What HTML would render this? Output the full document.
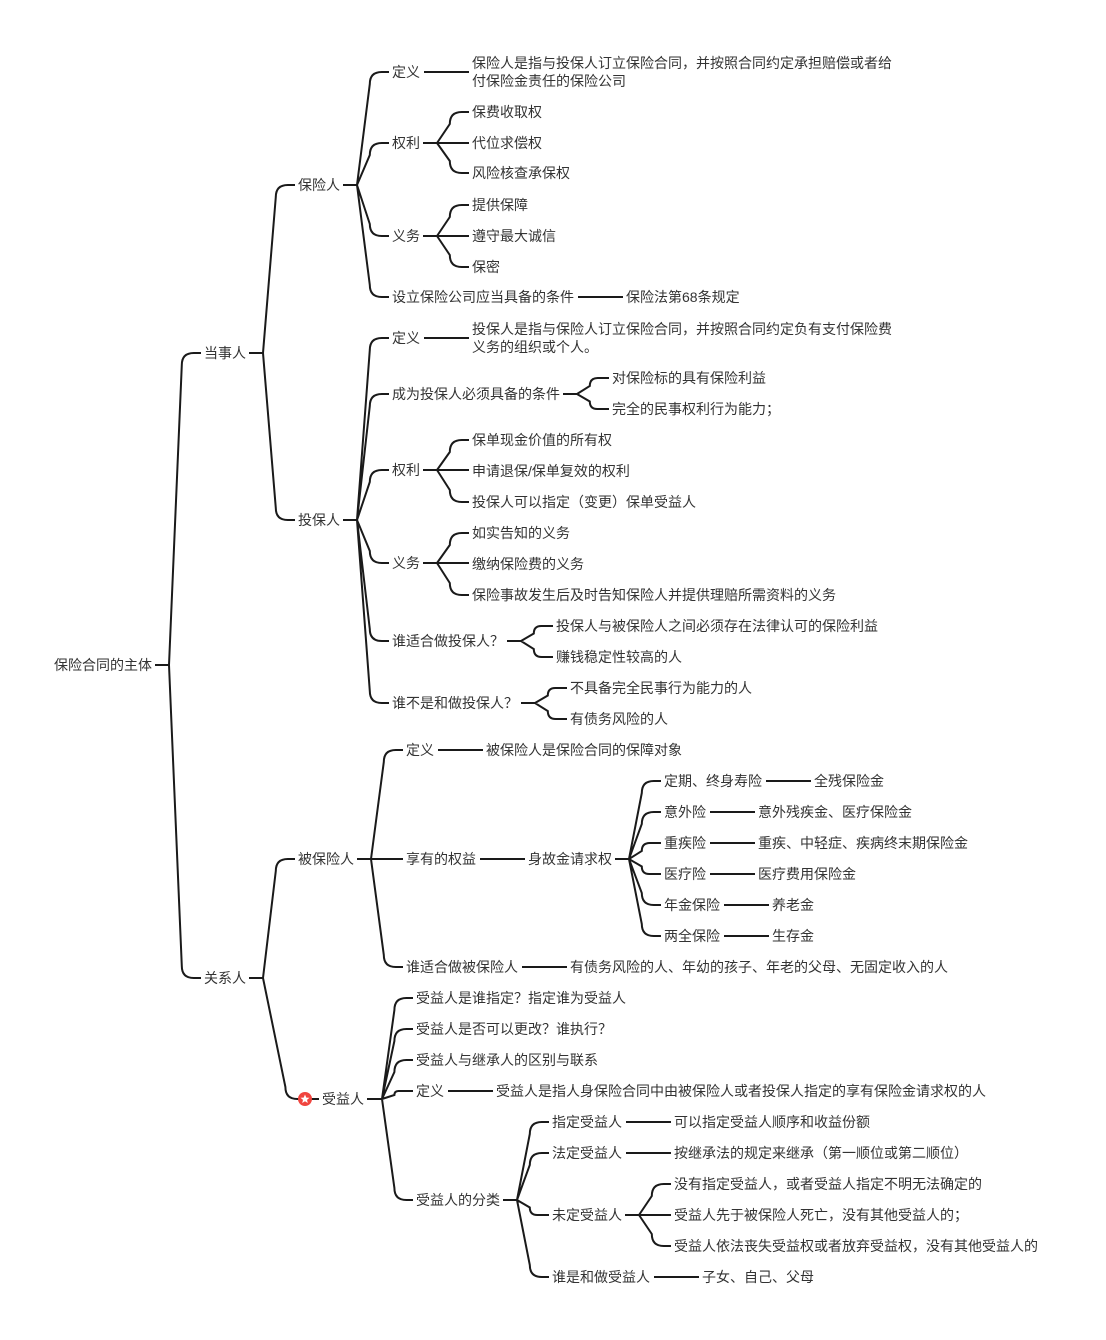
<!DOCTYPE html>
<html><head><meta charset="utf-8"><style>
html,body{margin:0;padding:0;background:#fff;}
svg{display:block;}
text{font-family:"Liberation Sans","Noto Sans CJK SC",sans-serif;font-size:14px;fill:#333;dominant-baseline:central;}
path{fill:none;stroke:#1a1a1a;stroke-width:2;}
</style></head><body>
<svg id="s" width="1106" height="1340" viewBox="0 0 1106 1340" xmlns="http://www.w3.org/2000/svg">
<g id="lines"></g>
<text id="root" x="54" y="665">保险合同的主体</text>
<text id="a" x="204" y="353">当事人</text>
<text id="b" x="204" y="978">关系人</text>
<text id="a1" x="298" y="185">保险人</text>
<text id="a2" x="298" y="520">投保人</text>
<text id="a1a" x="392" y="72">定义</text>
<text id="a1aL" x="472" y="63">保险人是指与投保人订立保险合同，并按照合同约定承担赔偿或者给</text>
<text x="472" y="81">付保险金责任的保险公司</text>
<text id="a1b" x="392" y="143">权利</text>
<text id="a1b1" x="472" y="112">保费收取权</text>
<text id="a1b2" x="472" y="143">代位求偿权</text>
<text id="a1b3" x="472" y="173">风险核查承保权</text>
<text id="a1c" x="392" y="236">义务</text>
<text id="a1c1" x="472" y="205">提供保障</text>
<text id="a1c2" x="472" y="236">遵守最大诚信</text>
<text id="a1c3" x="472" y="267">保密</text>
<text id="a1d" x="392" y="297">设立保险公司应当具备的条件</text>
<text id="a1d1" x="626" y="297">保险法第68条规定</text>
<text id="a2a" x="392" y="338">定义</text>
<text id="a2aL" x="472" y="329">投保人是指与保险人订立保险合同，并按照合同约定负有支付保险费</text>
<text x="472" y="347">义务的组织或个人。</text>
<text id="a2b" x="392" y="394">成为投保人必须具备的条件</text>
<text id="a2b1" x="612" y="378">对保险标的具有保险利益</text>
<text id="a2b2" x="612" y="409">完全的民事权利行为能力；</text>
<text id="a2c" x="392" y="470">权利</text>
<text id="a2c1" x="472" y="440">保单现金价值的所有权</text>
<text id="a2c2" x="472" y="471">申请退保/保单复效的权利</text>
<text id="a2c3" x="472" y="502">投保人可以指定（变更）保单受益人</text>
<text id="a2d" x="392" y="563">义务</text>
<text id="a2d1" x="472" y="533">如实告知的义务</text>
<text id="a2d2" x="472" y="564">缴纳保险费的义务</text>
<text id="a2d3" x="472" y="595">保险事故发生后及时告知保险人并提供理赔所需资料的义务</text>
<text id="a2e" x="392" y="641">谁适合做投保人？</text>
<text id="a2e1" x="556" y="626">投保人与被保险人之间必须存在法律认可的保险利益</text>
<text id="a2e2" x="556" y="657">赚钱稳定性较高的人</text>
<text id="a2f" x="392" y="703">谁不是和做投保人？</text>
<text id="a2f1" x="570" y="688">不具备完全民事行为能力的人</text>
<text id="a2f2" x="570" y="719">有债务风险的人</text>
<text id="b1" x="298" y="859">被保险人</text>
<text id="b1a" x="406" y="750">定义</text>
<text id="b1a1" x="486" y="750">被保险人是保险合同的保障对象</text>
<text id="b1b" x="406" y="859">享有的权益</text>
<text id="b1b1" x="528" y="859">身故金请求权</text>
<text id="k1" x="664" y="781">定期、终身寿险</text>
<text id="k1a" x="814" y="781">全残保险金</text>
<text id="k2" x="664" y="812">意外险</text>
<text id="k2a" x="758" y="812">意外残疾金、医疗保险金</text>
<text id="k3" x="664" y="843">重疾险</text>
<text id="k3a" x="758" y="843">重疾、中轻症、疾病终末期保险金</text>
<text id="k4" x="664" y="874">医疗险</text>
<text id="k4a" x="758" y="874">医疗费用保险金</text>
<text id="k5" x="664" y="905">年金保险</text>
<text id="k5a" x="772" y="905">养老金</text>
<text id="k6" x="664" y="936">两全保险</text>
<text id="k6a" x="772" y="936">生存金</text>
<text id="b1c" x="406" y="967">谁适合做被保险人</text>
<text id="b1c1" x="570" y="967">有债务风险的人、年幼的孩子、年老的父母、无固定收入的人</text>
<circle cx="305" cy="1099" r="7" fill="#f0453f"/>
<polygon points="305,1094.5 306.3,1097.6 309.5,1097.8 307,1099.9 307.8,1103 305,1101.3 302.2,1103 303,1099.9 300.5,1097.8 303.7,1097.6" fill="#fff"/>
<text id="b2" x="322" y="1099">受益人</text>
<text id="b2a" x="416" y="998">受益人是谁指定？指定谁为受益人</text>
<text id="b2b" x="416" y="1029">受益人是否可以更改？谁执行？</text>
<text id="b2c" x="416" y="1060">受益人与继承人的区别与联系</text>
<text id="b2d" x="416" y="1091">定义</text>
<text id="b2d1" x="496" y="1091">受益人是指人身保险合同中由被保险人或者投保人指定的享有保险金请求权的人</text>
<text id="b2e" x="416" y="1200">受益人的分类</text>
<text id="c1" x="552" y="1122">指定受益人</text>
<text id="c1a" x="674" y="1122">可以指定受益人顺序和收益份额</text>
<text id="c2" x="552" y="1153">法定受益人</text>
<text id="c2a" x="674" y="1153">按继承法的规定来继承（第一顺位或第二顺位）</text>
<text id="c3" x="552" y="1215">未定受益人</text>
<text id="c3a" x="674" y="1184">没有指定受益人，或者受益人指定不明无法确定的</text>
<text id="c3b" x="674" y="1215">受益人先于被保险人死亡，没有其他受益人的；</text>
<text id="c3c" x="674" y="1246">受益人依法丧失受益权或者放弃受益权，没有其他受益人的</text>
<text id="c4" x="552" y="1277">谁是和做受益人</text>
<text id="c4a" x="702" y="1277">子女、自己、父母</text>
</svg>
<script>
(function(){
var T={
root:["a","b"],a:["a1","a2"],b:["b1","b2"],
a1:["a1a","a1b","a1c","a1d"],a1a:["a1aL"],a1b:["a1b1","a1b2","a1b3"],a1c:["a1c1","a1c2","a1c3"],a1d:["a1d1"],
a2:["a2a","a2b","a2c","a2d","a2e","a2f"],a2a:["a2aL"],a2b:["a2b1","a2b2"],a2c:["a2c1","a2c2","a2c3"],a2d:["a2d1","a2d2","a2d3"],a2e:["a2e1","a2e2"],a2f:["a2f1","a2f2"],
b1:["b1a","b1b","b1c"],b1a:["b1a1"],b1b:["b1b1"],b1b1:["k1","k2","k3","k4","k5","k6"],k1:["k1a"],k2:["k2a"],k3:["k3a"],k4:["k4a"],k5:["k5a"],k6:["k6a"],b1c:["b1c1"],
b2:["b2a","b2b","b2c","b2d","b2e"],b2d:["b2d1"],b2e:["c1","c2","c3","c4"],c1:["c1a"],c2:["c2a"],c3:["c3a","c3b","c3c"],c4:["c4a"]};
var g=document.getElementById("lines"),d="";
function info(id){var e=document.getElementById(id);var x=+e.getAttribute("x"),y=+e.getAttribute("y");var w=e.getComputedTextLength();return {x:x,y:y,e:x+w};}
for(var p in T){var P=info(p),ch=T[p];
 if(ch.length==1){var C=info(ch[0]);var sy=(p=="a1a"||p=="a2a")?P.y:C.y;d+="M"+(P.e+4)+" "+sy+"H"+(C.x-3);continue;}
 var fx=P.e+17;var py=P.y;if(p=="b2"){fx=P.e+18;}
 d+="M"+(P.e+3)+" "+py+"H"+fx;
 ch.forEach(function(c){var C=info(c);var ex=C.x-3,cy=C.y;var dy=cy-py;
  if(Math.abs(dy)<2){d+="M"+fx+" "+py+"H"+ex;return;}
  var bx=fx+(ex-fx)*0.4,s=dy>0?1:-1,r=Math.min(12,Math.abs(dy)/2);
  d+="M"+fx+" "+py+"L"+bx+" "+(cy-s*r)+"Q"+bx+" "+cy+" "+(bx+r)+" "+cy+"L"+ex+" "+cy;});
}
var pa=document.createElementNS("http://www.w3.org/2000/svg","path");pa.setAttribute("d",d);g.appendChild(pa);
})();
</script>
</body></html>
